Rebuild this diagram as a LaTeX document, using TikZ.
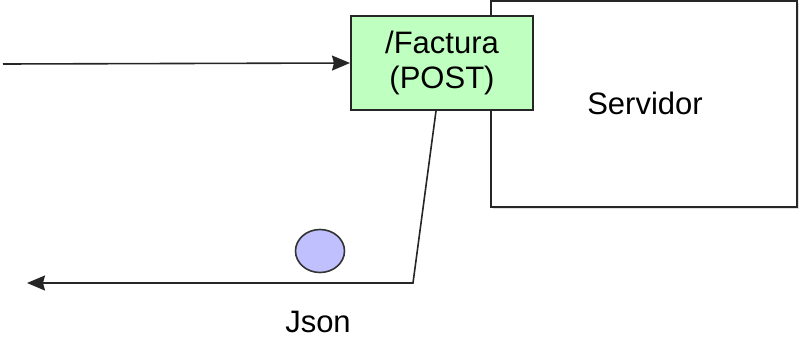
\documentclass[tikz,border=0pt]{standalone}
\usepackage{fontspec}
\setmainfont{Liberation Sans}
\usetikzlibrary{arrows.meta,shapes.geometric,shadows}
\definecolor{endpointgreen}{RGB}{191,255,191}
\definecolor{payloadblue}{RGB}{192,192,255}
\tikzset{
	boxline/.style={draw=black!85,line width=1pt},
	flow/.style={draw=black!85,line width=0.8pt,-{Stealth[length=9pt,width=7.5pt,inset=1pt]}},
	lbl/.style={font=\fontsize{15.5}{17.5}\selectfont}
}
\begin{document}
\begin{tikzpicture}[x=0.5pt,y=-0.5pt]
		\useasboundingbox (0,0) rectangle (800,338);
		%server
			\node[boxline,fill=white,drop shadow={opacity=0.25,shadow xshift=1pt,shadow yshift=-1pt},
				minimum width=153pt,minimum height=103pt,inner sep=0pt] (servidor) at (644,104) {};
			\node[lbl] (servidorlbl) at (645,103) {Servidor};
		% endpoint
			\node[boxline,fill=endpointgreen,minimum width=91pt,minimum height=47pt,
				inner sep=0pt,align=center,lbl] (factura) at (442,63) {/Factura\\(POST)};
		% request
			\coordinate (cliente) at (3,64);
			\draw[flow] (cliente) -- (factura.west);
		% response
			\coordinate (bend) at (413,283);
			\coordinate (retorno) at (27,283);
			\draw[flow] ([xshift=-3pt]factura.south) -- (bend) -- (retorno);
		% payload
			\node[ellipse,draw=black!80,line width=0.8pt,fill=payloadblue,
				minimum width=24.5pt,minimum height=21.5pt,inner sep=0pt] (dato) at (320,251) {};
			\node[lbl] (json) at (318,322) {Json};
	\end{tikzpicture}
\end{document}
